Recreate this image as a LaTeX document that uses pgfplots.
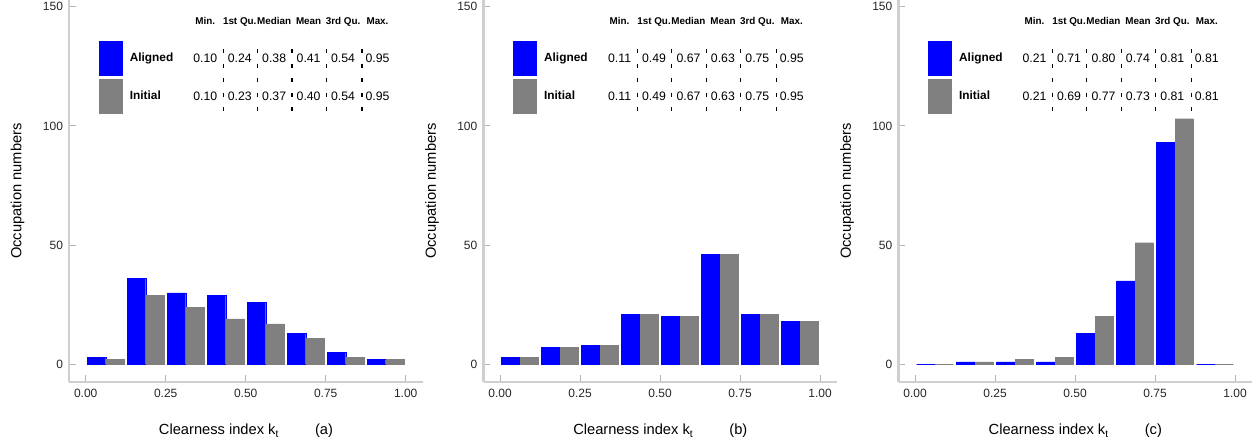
\documentclass[border=0pt]{standalone}
\usepackage{fontspec}
\setmainfont{Liberation Sans}
\usepackage{pgfplots}
\pgfplotsset{compat=1.18}
\usepackage{pgfplotstable}

% bin centre, Aligned, Initial
\pgfplotstableread{
x a i
0.0625 3 2
0.1875 36 29
0.3125 30 24
0.4375 29 19
0.5625 26 17
0.6875 13 11
0.8125 5 3
0.9375 2 2
}\dataA
\pgfplotstableread{
x a i
0.0625 3 3
0.1875 7 7
0.3125 8 8
0.4375 21 21
0.5625 20 20
0.6875 46 46
0.8125 21 21
0.9375 18 18
}\dataB
\pgfplotstableread{
x a i
0.0625 0 0
0.1875 1 1
0.3125 1 2
0.4375 1 3
0.5625 13 20
0.6875 35 51
0.8125 93 103
0.9375 0 0
}\dataC

\definecolor{axgray}{HTML}{CFCFCF}
\definecolor{tkgray}{HTML}{B4B4B4}

\pgfplotsset{
  histo/.style={
    scale only axis,
    width=265.05pt, height=285.9pt,
    xmin=-0.0513, xmax=1.0531, ymin=-7.3, ymax=152.6,
    axis x line=bottom, axis y line=left,
    axis line style={-, draw=axgray, line width=1.7pt},
    xtick={0,0.25,0.5,0.75,1}, xticklabels={0.00,0.25,0.50,0.75,1.00},
    ytick={0,50,100,150}, yticklabels={0,50,100,150},
    tick align=inside, major tick length=5pt,
    every tick/.style={draw=tkgray, line width=0.6pt},
    tick label style={font=\fontsize{9}{10}\selectfont, text=black!85},
    xticklabel style={yshift=-2.3pt},
    yticklabel style={xshift=-1.2pt},
    every axis y label/.style={at={(axis description cs:0,0.5)}, rotate=90, anchor=center, yshift=38.7pt, font=\fontsize{11}{12}\selectfont},
    every axis x label/.style={at={(axis description cs:0.5,0)}, anchor=center, yshift=-37pt, font=\fontsize{11}{12}\selectfont},
    ylabel={Occupation numbers},
    clip=false,
    legend style={draw=none, fill=none, inner sep=0pt, outer sep=0pt,
      at={(axis cs:0.0416,135.6)}, anchor=north west,
      row sep=2.7pt, font=\bfseries\fontsize{8.9}{10}\selectfont,
      nodes={inner sep=0pt},
      /tikz/every odd column/.append style={column sep=5.7pt}},
    legend cell align=left,
  },
  alignedbar/.style={ybar, bar width=0.0575, bar shift=-0.02875, fill=blue, draw=blue, line width=0.3pt, forget plot},
  initialbar/.style={ybar, bar width=0.0575, bar shift=0.02875, fill=gray, draw=gray, line width=0.3pt, forget plot},
}

\tikzset{
  hdr/.style={font=\bfseries\fontsize{7.4}{8}\selectfont, inner sep=0pt, anchor=base},
  num/.style={font=\fontsize{9.2}{10}\selectfont, inner sep=0pt, anchor=base},
}

\newcommand{\statstable}[3]{%
  \foreach \h [count=\i] in {Min.,1st Qu.,Median,Mean,3rd Qu.,Max.}{
    \node[hdr] at ({#1+119.6+34.44*(\i-1)},{448-24.5}) {\h};}
  \foreach \v [count=\i] in {#2}{
    \node[num] at ({#1+119.6+34.44*(\i-1)},{448-62.6}) {\v};}
  \foreach \v [count=\i] in {#3}{
    \node[num] at ({#1+119.6+34.44*(\i-1)},{448-100.3}) {\v};}
  \foreach \s in {137.6,171.8,206.2,240.5,276.2}{
    \draw[black, line width=1pt, dash pattern=on 3pt off 7.9pt] ({#1+\s},{448-49}) -- ({#1+\s},{448-113});}
}

\newcommand{\leg}{%
  \addlegendimage{legend image code/.code={\fill[blue] (0pt,-12.65pt) rectangle (17pt,12.65pt);}}
  \addlegendentry{Aligned}
  \addlegendimage{legend image code/.code={\fill[gray] (0pt,-12.65pt) rectangle (17pt,12.65pt);}}
  \addlegendentry{Initial}
}

\begin{document}
\begin{tikzpicture}[x=0.75pt,y=0.75pt]
\useasboundingbox (0,0) rectangle (1260,448);

\begin{axis}[histo, at={(51.975pt,49.725pt)}, anchor=south west,
  xlabel={Clearness index k\textsubscript{t}\hspace{27pt}(a)}]
  \addplot[alignedbar] table[x=x,y=a]{\dataA};
  \addplot[initialbar] table[x=x,y=i]{\dataA};
  \leg
\end{axis}

\begin{axis}[histo, at={(362.7pt,49.725pt)}, anchor=south west,
  xlabel={Clearness index k\textsubscript{t}\hspace{27pt}(b)}]
  \addplot[alignedbar] table[x=x,y=a]{\dataB};
  \addplot[initialbar] table[x=x,y=i]{\dataB};
  \leg
\end{axis}

\begin{axis}[histo, at={(673.95pt,49.725pt)}, anchor=south west,
  xlabel={Clearness index k\textsubscript{t}\hspace{27pt}(c)}]
  \addplot[alignedbar] table[x=x,y=a]{\dataC};
  \addplot[initialbar] table[x=x,y=i]{\dataC};
  \leg
\end{axis}

\statstable{85.7}{0.10,0.24,0.38,0.41,0.54,0.95}{0.10,0.23,0.37,0.40,0.54,0.95}
\statstable{500}{0.11,0.49,0.67,0.63,0.75,0.95}{0.11,0.49,0.67,0.63,0.75,0.95}
\statstable{915}{0.21,0.71,0.80,0.74,0.81,0.81}{0.21,0.69,0.77,0.73,0.81,0.81}
\end{tikzpicture}
\end{document}
